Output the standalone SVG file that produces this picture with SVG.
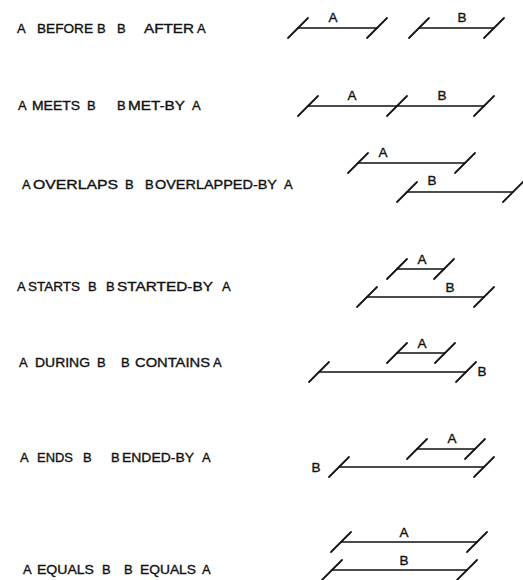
<svg xmlns="http://www.w3.org/2000/svg" width="523" height="580" viewBox="0 0 523 580">
<style>
text{font-family:"Liberation Sans",Arial,sans-serif;font-size:13px;fill:#111;stroke:#111;stroke-width:0.35;}
.lbl{font-size:13.5px;text-anchor:middle;}
.seg line{stroke:#111;stroke-width:1.7;stroke-linecap:round;}
</style>
<rect width="523" height="580" fill="#fff"/>
<defs>
<path id="tk" d="M-10 10 L10 -10" stroke="#111" stroke-width="1.8" stroke-linecap="round"/>
</defs>

<g id="before">
<text y="33"><tspan x="17">A</tspan><tspan x="37" textLength="56" lengthAdjust="spacingAndGlyphs">BEFORE</tspan><tspan x="97">B</tspan><tspan x="117">B</tspan><tspan x="144" textLength="50" lengthAdjust="spacingAndGlyphs">AFTER</tspan><tspan x="197">A</tspan></text>
<g class="seg"><line x1="298" y1="28" x2="377" y2="28"/><use href="#tk" x="298" y="28"/><use href="#tk" x="377" y="28"/><text class="lbl" x="333" y="22">A</text></g>
<g class="seg"><line x1="419" y1="28" x2="494" y2="28"/><use href="#tk" x="419" y="28"/><use href="#tk" x="494" y="28"/><text class="lbl" x="462" y="22">B</text></g>
</g>

<g id="meets">
<text y="110"><tspan x="18">A</tspan><tspan x="32" textLength="48" lengthAdjust="spacingAndGlyphs">MEETS</tspan><tspan x="87">B</tspan><tspan x="117">B</tspan><tspan x="128" textLength="57" lengthAdjust="spacingAndGlyphs">MET-BY</tspan><tspan x="192">A</tspan></text>
<g class="seg"><line x1="308" y1="106" x2="484" y2="106"/><use href="#tk" x="308" y="106"/><use href="#tk" x="397" y="106"/><use href="#tk" x="484" y="106"/><text class="lbl" x="352" y="100">A</text><text class="lbl" x="442" y="100">B</text></g>
</g>

<g id="overlaps">
<text y="189"><tspan x="22">A</tspan><tspan x="33" textLength="85" lengthAdjust="spacingAndGlyphs">OVERLAPS</tspan><tspan x="125">B</tspan><tspan x="145">B</tspan><tspan x="155" textLength="122" lengthAdjust="spacingAndGlyphs">OVERLAPPED-BY</tspan><tspan x="284">A</tspan></text>
<g class="seg"><line x1="358" y1="163" x2="465" y2="163"/><use href="#tk" x="358" y="163"/><use href="#tk" x="465" y="163"/><text class="lbl" x="383" y="157">A</text></g>
<g class="seg"><line x1="407" y1="192" x2="513" y2="192"/><use href="#tk" x="407" y="192"/><use href="#tk" x="513" y="192"/><text class="lbl" x="432" y="185">B</text></g>
</g>

<g id="starts">
<text y="291"><tspan x="17">A</tspan><tspan x="28" textLength="52" lengthAdjust="spacingAndGlyphs">STARTS</tspan><tspan x="88">B</tspan><tspan x="106">B</tspan><tspan x="117" textLength="96" lengthAdjust="spacingAndGlyphs">STARTED-BY</tspan><tspan x="222">A</tspan></text>
<g class="seg"><line x1="397" y1="269" x2="444" y2="269"/><use href="#tk" x="397" y="269"/><use href="#tk" x="444" y="269"/><text class="lbl" x="422" y="264">A</text></g>
<g class="seg"><line x1="367" y1="297" x2="484" y2="297"/><use href="#tk" x="367" y="297"/><use href="#tk" x="484" y="297"/><text class="lbl" x="450" y="292">B</text></g>
</g>

<g id="during">
<text y="367"><tspan x="19">A</tspan><tspan x="35" textLength="55" lengthAdjust="spacingAndGlyphs">DURING</tspan><tspan x="97">B</tspan><tspan x="121">B</tspan><tspan x="135" textLength="75" lengthAdjust="spacingAndGlyphs">CONTAINS</tspan><tspan x="213">A</tspan></text>
<g class="seg"><line x1="397" y1="353" x2="445" y2="353"/><use href="#tk" x="397" y="353"/><use href="#tk" x="445" y="353"/><text class="lbl" x="422" y="348">A</text></g>
<g class="seg"><line x1="319" y1="372" x2="466" y2="372"/><use href="#tk" x="319" y="372"/><use href="#tk" x="466" y="372"/><text class="lbl" x="482" y="376">B</text></g>
</g>

<g id="ends">
<text y="462"><tspan x="20">A</tspan><tspan x="37" textLength="36" lengthAdjust="spacingAndGlyphs">ENDS</tspan><tspan x="83">B</tspan><tspan x="111">B</tspan><tspan x="122" textLength="72" lengthAdjust="spacingAndGlyphs">ENDED-BY</tspan><tspan x="202">A</tspan></text>
<g class="seg"><line x1="417" y1="449" x2="475" y2="449"/><use href="#tk" x="417" y="449"/><use href="#tk" x="475" y="449"/><text class="lbl" x="452" y="443">A</text></g>
<g class="seg"><line x1="339" y1="467" x2="484" y2="467"/><use href="#tk" x="339" y="467"/><use href="#tk" x="484" y="467"/><text class="lbl" x="316" y="472">B</text></g>
</g>

<g id="equals">
<text y="574"><tspan x="23">A</tspan><tspan x="37" textLength="57" lengthAdjust="spacingAndGlyphs">EQUALS</tspan><tspan x="102">B</tspan><tspan x="124">B</tspan><tspan x="140" textLength="56" lengthAdjust="spacingAndGlyphs">EQUALS</tspan><tspan x="202">A</tspan></text>
<g class="seg"><line x1="341" y1="542" x2="477" y2="542"/><use href="#tk" x="341" y="542"/><use href="#tk" x="477" y="542"/><text class="lbl" x="404" y="537">A</text></g>
<g class="seg"><line x1="332" y1="570" x2="467" y2="570"/><use href="#tk" x="332" y="570"/><use href="#tk" x="467" y="570"/><text class="lbl" x="404" y="565">B</text></g>
</g>
</svg>
